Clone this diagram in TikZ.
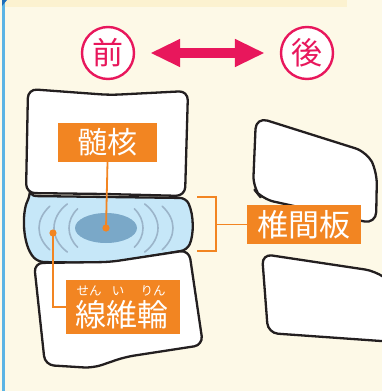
\documentclass[tikz,border=0pt]{standalone}
\usepackage{fontspec}
\newfontfamily\jp{Noto Sans CJK JP}
\usetikzlibrary{arrows.meta,shapes.geometric}
\definecolor{paper}{HTML}{FDF9E7}
\definecolor{band}{HTML}{FCF2D0}
\definecolor{rule}{HTML}{5BB4E5}
\definecolor{ruledark}{HTML}{1F6EB8}
\definecolor{rose}{HTML}{E8175C}
\definecolor{tag}{HTML}{F28522}
\definecolor{discblue}{HTML}{C6E7F8}
\definecolor{corefill}{HTML}{7AA8C8}
\definecolor{ringline}{HTML}{9BB4C9}
\definecolor{bone}{HTML}{231F20}

\begin{document}
\begin{tikzpicture}[x=1pt,y=-1pt,
  bonebody/.style={draw=bone, line width=2.3pt, fill=white, line join=round, rounded corners=9pt},
  tagbox/.style={fill=tag, text=white, inner sep=0pt, font=\jp\fontsize{30}{30}\selectfont},
  tagtext/.style={text=white, inner sep=0pt, font=\jp\fontsize{31}{31}\selectfont},
  rubytext/.style={text=white, inner sep=0pt, font=\jp\fontsize{12.5}{12.5}\selectfont},
  leader/.style={draw=tag, line width=1.8pt},
  dirmark/.style={circle, draw=rose, line width=2.4pt, fill=white, minimum size=52pt, inner sep=0pt, text=rose, font=\jp\fontsize{31}{31}\selectfont},
  ringarc/.style={draw=ringline, line width=1.6pt, line cap=round},
  bigtip/.tip={Triangle[length=30pt,width=26pt]}
]
% page, header band and margin rule
\fill[paper] (0,0) rectangle (382,391);
\useasboundingbox (0,0) rectangle (382,391);
\fill[band] (5,0) rectangle (347,7);
\fill[rule] (2,0) rectangle (5,391);
\fill[ruledark] (2,0) -- (7,0) -- (2,6) -- cycle;

% direction marks
\node[dirmark] (front) at (108,53) {前};
\node[dirmark] (back) at (307,53) {後};
\draw[rose, line width=10pt, bigtip-bigtip, shorten <=15pt, shorten >=15pt] (front) -- (back);

% intervertebral disc
\draw[bonebody, fill=discblue, rounded corners=6pt]
  (30,196) -- (186,198) .. controls (194,215) and (194,235) .. (187,250)
  -- (110,263) -- (38,262) .. controls (22,245) and (22,212) .. cycle;
\node[ellipse, fill=corefill, minimum width=62pt, minimum height=30pt, inner sep=0pt] (core) at (106,228) {};
\foreach \rx/\ry/\sp in {37/30/40, 52/36/42, 67/40/33} {
  \draw[ringarc] (106,228) ++(-\sp:\rx pt and \ry pt) arc[start angle=-\sp, end angle=\sp, x radius=\rx pt, y radius=\ry pt];
  \draw[ringarc] (106,228) ++(180-\sp:\rx pt and \ry pt) arc[start angle=180-\sp, end angle=180+\sp, x radius=\rx pt, y radius=\ry pt];
}

% vertebral bodies
\draw[bonebody] (28,89) -- (110,95) -- (188,91) -- (185,196) -- (105,194) -- (26,193) -- cycle;
\draw[bonebody] (34,263) -- (110,262) -- (189,250) -- (203,345) -- (125,357) -- (93,368) -- (45,365) -- cycle;

% posterior elements
\begin{scope}
  \clip (0,0) rectangle (382,391);
  \draw[bonebody, rounded corners=12pt] (256,117) -- (367,152) -- (377,172) -- (376,224) -- (262,199) -- (253,188) -- cycle;
  \draw[bonebody, rounded corners=10pt] (262,254) -- (375,271) -- (395,285) -- (395,342) -- (268,333) -- cycle;
\end{scope}

% labels
\node[tagbox, minimum width=99pt, minimum height=39pt] (labNuc) at (107.5,142.5) {髄核};
\node[tagbox, font=\jp\fontsize{31}{31}\selectfont, minimum width=114pt, minimum height=39pt] (labDisc) at (304,224.5) {椎間板};
\node[tagbox, minimum width=114pt, minimum height=54pt] (labRing) at (123,307) {};
\node[tagtext] (ringText) at (122,315) {線維輪};
\node[rubytext] (rubySen) at (89,291) {せん};
\node[rubytext] (rubyI) at (118,291) {い};
\node[rubytext] (rubyRin) at (153,291) {りん};

% leader lines
\draw[leader] (labNuc.south) -- (core.center);
\fill[tag] (core.center) circle (3.6pt);
\coordinate (ringDot) at (53,233);
\draw[leader] (ringDot) |- (labRing.west);
\fill[tag] (ringDot) circle (3.6pt);
\coordinate (brTop) at (197,197);
\coordinate (brBot) at (197,251);
\coordinate (brMid) at (216,224.5);
\draw[leader] (brTop) -- (216,197) -- (216,251) -- (brBot);
\draw[leader] (brMid) -- (labDisc.west);
\end{tikzpicture}
\end{document}
